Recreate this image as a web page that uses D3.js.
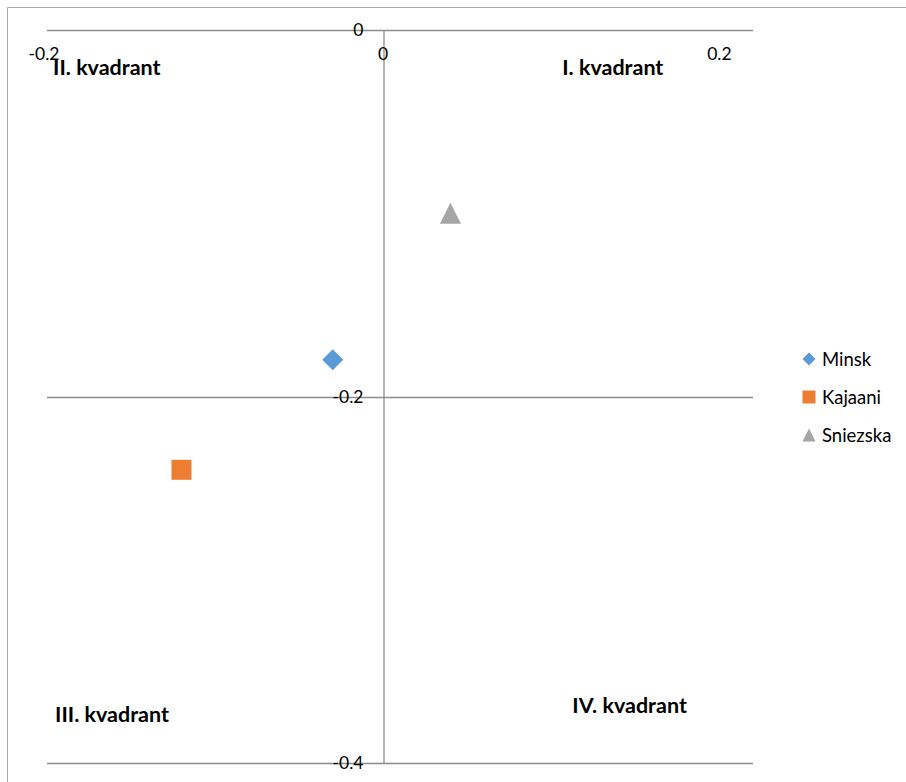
<!DOCTYPE html>
<html><head><meta charset="utf-8">
<script src="https://cdn.jsdelivr.net/npm/d3@7"></script>
<style>body{margin:0;background:#fff}svg{display:block}text{font-family:Lato,"Open Sans",sans-serif}</style>
</head><body><svg id="c" width="906" height="782"></svg>
<script>
const seriesNames = ["Minsk", "Kajaani", "Sniezska"];
const xValues = [-0.03, -0.12, 0.04];
const yValues = [-0.18, -0.24, -0.10];
const colors = ["#5B9BD5", "#ED7D31", "#A5A5A5"];
const shapes = ["diamond", "square", "triangle"];
const xTicks = [-0.2, 0, 0.2];
const yTicks = [0, -0.2, -0.4];
const quadrantLabels = ["I. kvadrant", "II. kvadrant", "III. kvadrant", "IV. kvadrant"];

const svg = d3.select("#c");
// chart border
svg.append("path").attr("d","M7.5,782 V7.5 H906").attr("fill","none").attr("stroke","#a6a6a6").attr("stroke-width",1);

const x = d3.scaleLinear().domain([-0.2, 0.22]).range([47, 753]);
const y = d3.scaleLinear().domain([0, -0.4]).range([30, 763]);
const fmt = d => d === 0 ? "0" : d3.format(".1f")(d).replace("−","-");

// horizontal gridlines (major)
svg.append("g").selectAll("line").data(yTicks).join("line")
  .attr("x1", x(-0.2)).attr("x2", x(0.22))
  .attr("y1", d => Math.round(y(d)) + 0.5).attr("y2", d => Math.round(y(d)) + 0.5)
  .attr("stroke", "#8c8c8c").attr("stroke-width", 1.3);

// vertical axis at x=0
const yAxis = d3.axisLeft(y).tickValues(yTicks).tickFormat(fmt).tickSize(0).tickPadding(20);
const gy = svg.append("g").attr("transform", `translate(${Math.round(x(0))+0.5},0)`).call(yAxis);
gy.select(".domain").attr("stroke", "#8c8c8c").attr("stroke-width", 1.3);
gy.selectAll("text").attr("font-size", 17.5).attr("fill", "#000").attr("font-family","Lato");

// x axis labels at top
const xAxis = d3.axisBottom(x).tickValues(xTicks).tickFormat(fmt).tickSize(0).tickPadding(18);
const gx = svg.append("g").attr("transform", `translate(0,${y(0)})`).call(xAxis);
gx.select(".domain").remove();
gx.selectAll("text").attr("font-size", 17.5).attr("fill", "#000").attr("font-family","Lato");
gx.selectAll(".tick").attr("transform", d => `translate(${x(d) + (d < 0 ? -3 : 0)},0)`);

// symbols
function sym(shape, s) {
  if (shape === "diamond") return `M0,${-s}L${s},0L0,${s}L${-s},0Z`;
  if (shape === "square") return `M${-s},${-s}H${s}V${s}H${-s}Z`;
  return `M0,${-s}L${s},${s}H${-s}Z`;
}
const pts = seriesNames.map((n, i) => ({n, x: xValues[i], y: yValues[i], c: colors[i], s: shapes[i]}));
const markerSize = {diamond: 10.5, square: 10, triangle: 10.5};
svg.append("g").selectAll("path").data(pts).join("path")
  .attr("transform", d => `translate(${x(d.x)},${y(d.y)})`)
  .attr("d", d => sym(d.s, markerSize[d.s]))
  .attr("fill", d => d.c);

// quadrant labels
const qPos = [[0.1065, -0.0246], [-0.1964, -0.0246], [-0.1952, -0.3776], [0.1125, -0.3727]];
svg.append("g").selectAll("text").data(quadrantLabels).join("text")
  .attr("x", (d, i) => x(qPos[i][0])).attr("y", (d, i) => y(qPos[i][1]))
  .attr("font-size", 21.5).attr("font-weight", "bold").attr("fill", "#000")
  .text(d => d);

// legend
const leg = svg.append("g").selectAll("g").data(pts).join("g")
  .attr("transform", (d, i) => `translate(809,${359 + i * 38})`);
leg.append("path").attr("d", d => sym(d.s, 6.5)).attr("fill", d => d.c);
leg.append("text").attr("x", 13).attr("y", 6.5).attr("font-size", 18.5).attr("fill", "#000").text(d => d.n);
</script></body></html>
